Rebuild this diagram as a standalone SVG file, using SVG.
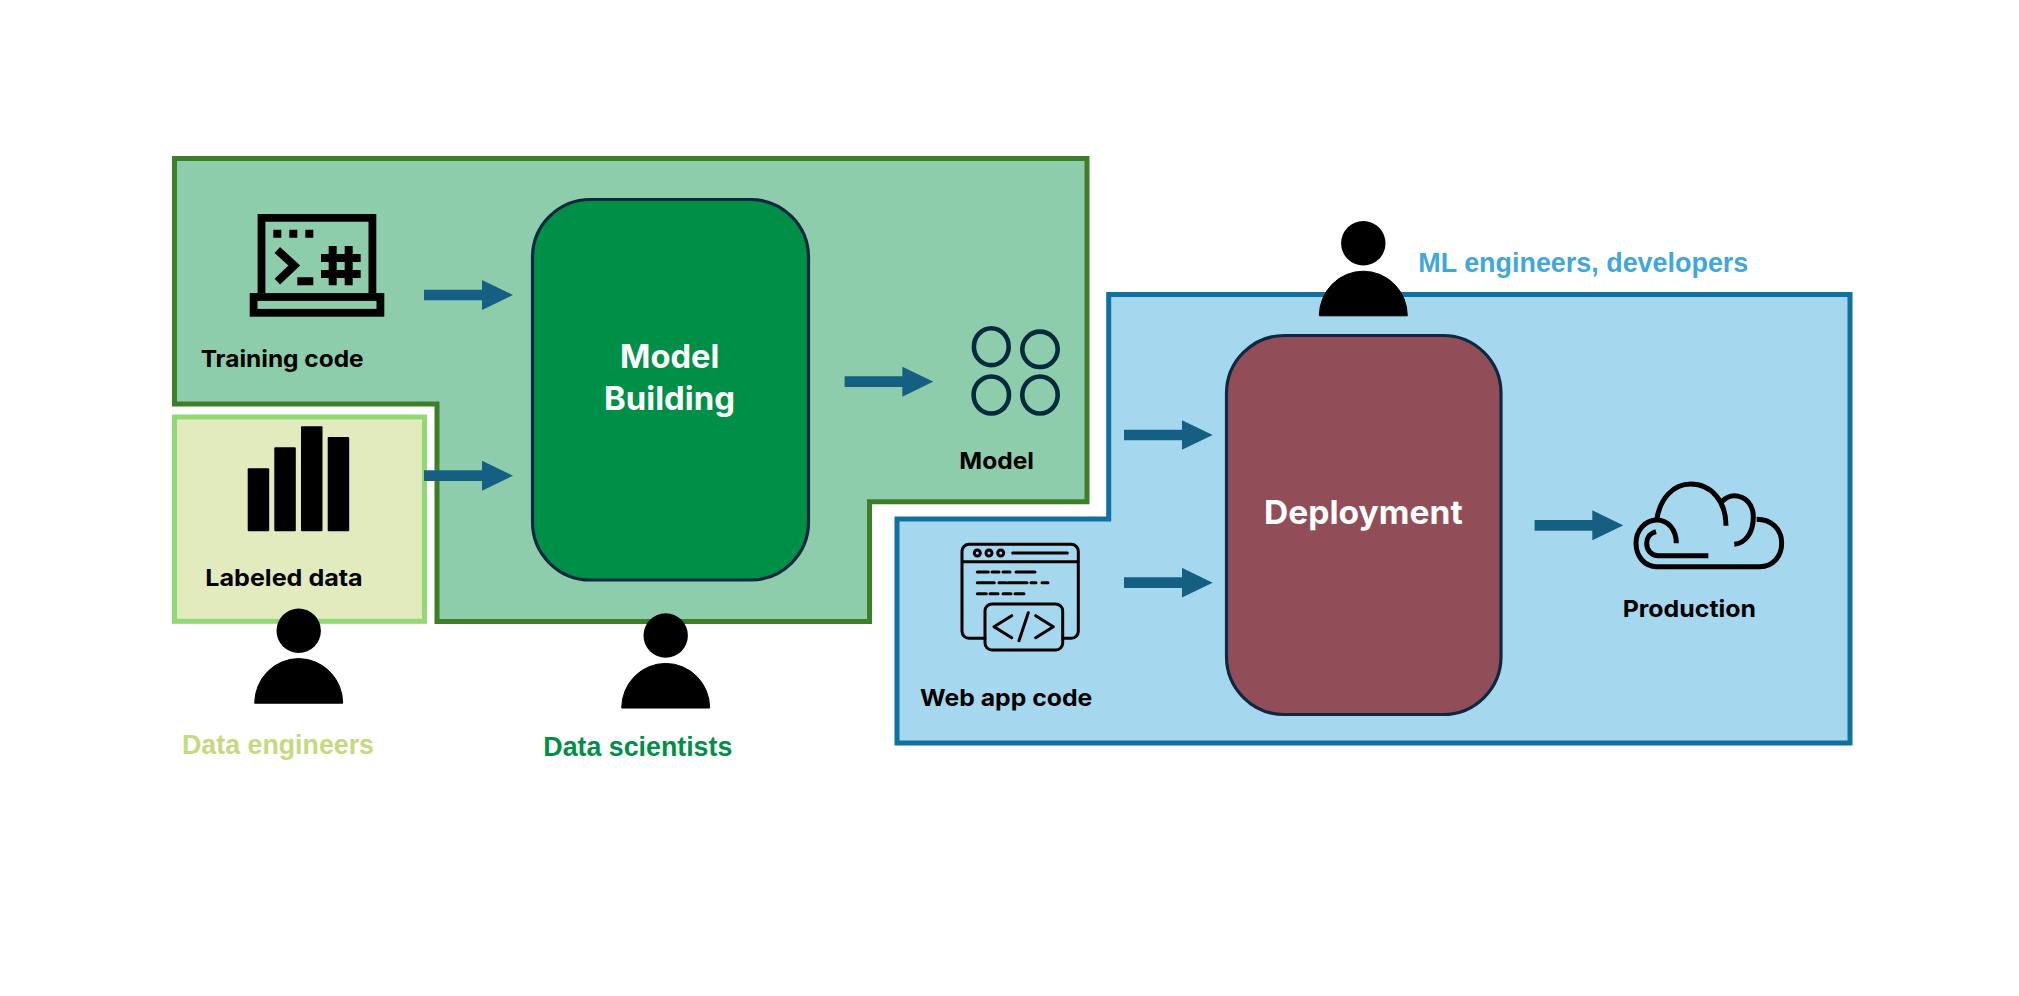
<svg xmlns="http://www.w3.org/2000/svg" width="2019" height="996" viewBox="0 0 2019 996">
<style>
.lbl{font-family:"Inter","Liberation Sans",sans-serif;font-weight:700;font-size:23.5px;fill:#000}
.big{font-family:"Inter","Liberation Sans",sans-serif;font-weight:700;font-size:32.5px;fill:#fff}
.role{font-family:"Liberation Sans",Arial,sans-serif;font-weight:700;font-size:26.8px}
.proc{stroke:#0e2841;stroke-width:3.2}
.arrow{stroke:#156082;stroke-width:10.7;fill:none;marker-end:url(#head)}
.ic{fill:none;stroke:#000;stroke-width:3;stroke-linecap:round;stroke-linejoin:round}
</style>
<defs>
<marker id="head" markerUnits="userSpaceOnUse" markerWidth="31" markerHeight="30" refX="5" refY="15" orient="auto"><path d="M0,0L31,15L0,30Z" fill="#156082"/></marker>
<g id="person"><circle cx="0" cy="0" r="22.2"/><path d="M-44,72.5A44,44.6 0 0 1 44,72.5Z" stroke="#000" stroke-width="1" stroke-linejoin="round"/></g>
</defs>
<rect width="2019" height="996" fill="#fff"/>
<g id="region-build"><path d="M174.5,158.5H1087V501.7H869.5V621.5H437V404H174.5Z" fill="#8ecdab" stroke="#3e7e28" stroke-width="5"/></g>
<g id="region-data"><rect x="174.5" y="417" width="250" height="204.3" fill="#e2ebbd" stroke="#92d975" stroke-width="5"/></g>
<g id="region-deploy"><path d="M1108.7,294.5H1850V743H897V519H1108.7Z" fill="#a5d8ef" stroke="#0f719f" stroke-width="5"/></g>
<g id="node-model-building"><rect class="proc" x="532.5" y="199.5" width="276" height="380.5" rx="58" fill="#008f47"/>
<text class="big" x="620" y="367.7" textLength="99.3" lengthAdjust="spacingAndGlyphs">Model</text><text class="big" x="604" y="409.5" textLength="131" lengthAdjust="spacingAndGlyphs">Building</text></g>
<g id="node-deployment"><rect class="proc" x="1226.5" y="335.5" width="274.5" height="379" rx="58" fill="#924e58"/>
<text class="big" x="1264" y="523.5" textLength="198.7" lengthAdjust="spacingAndGlyphs">Deployment</text></g>
<g id="node-training-code">
<path d="M261.5,293V217.9H372.4V293" fill="none" stroke="#000" stroke-width="7.8"/>
<rect x="253.6" y="297" width="126.8" height="15.8" fill="none" stroke="#000" stroke-width="7.8"/>
<path d="M273.3,229.7h8v8h-8zM289.3,229.7h8v8h-8zM305.3,229.7h8v8h-8zM297.3,277.3h16v8h-16z"/>
<path d="M277.3,250L294.3,265.5L277.3,281.7" fill="none" stroke="#000" stroke-width="8"/>
<path d="M332.7,246v39.3M348.7,246v39.3M321,258h39.7M321,274h39.7" fill="none" stroke="#000" stroke-width="8"/>
<text class="lbl" x="200.7" y="366.7" textLength="163" lengthAdjust="spacingAndGlyphs">Training code</text></g>
<g id="node-labeled-data">
<rect x="247.7" y="468.3" width="21.5" height="63" rx="1"/><rect x="274.3" y="447.3" width="21.5" height="84" rx="1"/><rect x="301" y="426.3" width="21.5" height="105" rx="1"/><rect x="327.7" y="437" width="21.5" height="94.3" rx="1"/>
<text class="lbl" x="205.3" y="586" textLength="157.4" lengthAdjust="spacingAndGlyphs">Labeled data</text></g>
<g id="node-model" fill="none" stroke="#002b3d" stroke-width="4.6">
<ellipse cx="991.3" cy="346.7" rx="17.4" ry="18.4"/><circle cx="1040" cy="349.3" r="17.7"/><ellipse cx="991.3" cy="395" rx="17.7" ry="18.5"/><ellipse cx="1040" cy="395" rx="17.7" ry="18.5"/>
<text class="lbl" x="959.3" y="469.3" textLength="74.7" lengthAdjust="spacingAndGlyphs" stroke="none">Model</text></g>
<g id="node-web-app-code">
<path class="ic" d="M985,638.3H969A7,7 0 0 1 962,631.3V551.3A7,7 0 0 1 969,544.3H1071.3A7,7 0 0 1 1078.3,551.3V631.3A7,7 0 0 1 1071.3,638.3H1062.7M962,561.7H1078.3"/>
<circle class="ic" cx="977.3" cy="553" r="3"/><circle class="ic" cx="989" cy="553" r="3"/><circle class="ic" cx="1000.7" cy="553" r="3"/>
<path class="ic" d="M1012.7,553H1067.3M977.3,572h11M992,572h7M1003,572h7M1016,572h19M977.3,582.7h17M999,582.7h7M1008,582.7h19M1031,582.7h5M1042,582.7h6M977.3,593.7h9M990,593.7h8M1003,593.7h8M1015,593.7h9"/>
<rect class="ic" x="985" y="604" width="77.7" height="46" rx="7"/>
<path class="ic" d="M1011.7,615.7L994,626.7L1011.7,637.7M1035.7,615.7L1053.3,626.7L1035.7,637.7M1028.3,612.7L1019,640.7"/>
<text class="lbl" x="920" y="705.5" textLength="172.3" lengthAdjust="spacingAndGlyphs">Web app code</text></g>
<g id="node-production">
<g transform="translate(1600 460) scale(.3333)" fill="none" stroke="#000" stroke-width="15">
<path d="M229,250C229,210 205,180 170,180C135,180 108,212 108,250C108,290 135,320 170,320H480C518,320 545,290 545,250C545,208 515,178 470,178"/>
<path d="M170,180C180,115 220,72 272,72C335,72 378,125 378,197"/>
<path d="M365,125C378,112 390,107 402,107C435,107 460,132 460,170C460,220 435,250 403,253"/>
<path d="M168,215C150,220 140,232 140,250C140,272 155,287 175,287H325"/>
</g>
<text class="lbl" x="1622.7" y="616.5" textLength="133.3" lengthAdjust="spacingAndGlyphs">Production</text></g>
<g id="connectors">
<line class="arrow" x1="424" y1="295" x2="487" y2="295"/>
<line class="arrow" x1="424" y1="475.7" x2="487" y2="475.7"/>
<line class="arrow" x1="844.6" y1="381.7" x2="907.3" y2="381.7"/>
<line class="arrow" x1="1124" y1="435" x2="1186.7" y2="435"/>
<line class="arrow" x1="1124" y1="582.7" x2="1186.7" y2="582.7"/>
<line class="arrow" x1="1534.6" y1="525.3" x2="1597.3" y2="525.3"/>
</g>
<g id="actor-data-engineers"><use href="#person" x="298.7" y="630.7"/><text class="role" x="182" y="754.3" fill="#c5d97e" textLength="192" lengthAdjust="spacingAndGlyphs">Data engineers</text></g>
<g id="actor-data-scientists"><use href="#person" x="665.7" y="635.5"/><text class="role" x="543.3" y="755.7" fill="#008f47" textLength="189" lengthAdjust="spacingAndGlyphs">Data scientists</text></g>
<g id="actor-ml-engineers"><use href="#person" x="1363.3" y="243.3"/><text class="role" x="1418.3" y="271.7" fill="#3fa7dc" textLength="330" lengthAdjust="spacingAndGlyphs">ML engineers, developers</text></g>
</svg>
